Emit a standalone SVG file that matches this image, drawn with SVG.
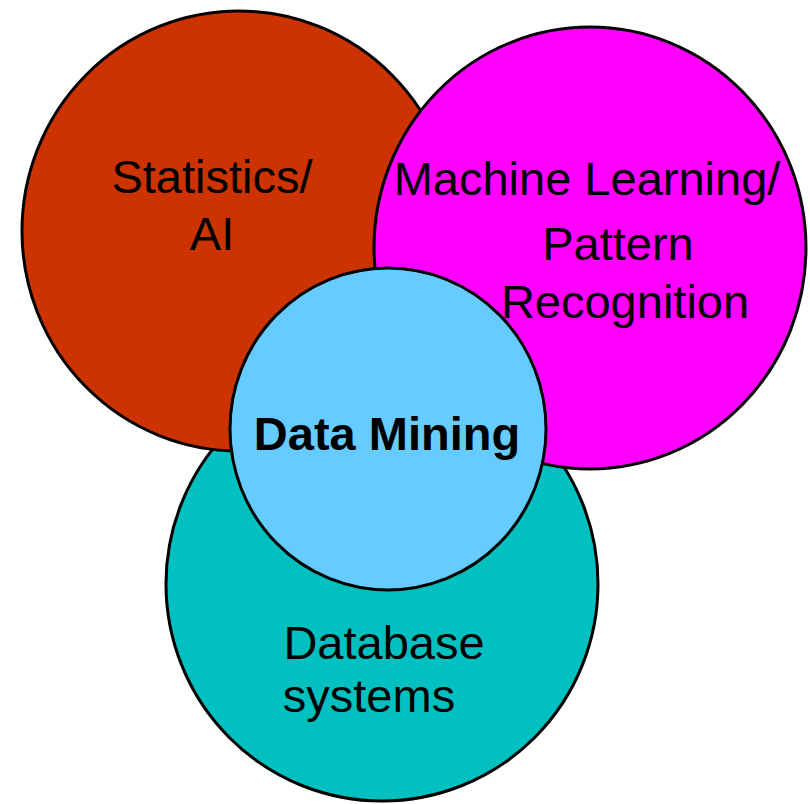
<svg xmlns="http://www.w3.org/2000/svg" width="810" height="804" viewBox="0 0 810 804">
<style>
.c{stroke:#000;stroke-width:3}
.t{font-family:"Liberation Sans",Arial,sans-serif;font-size:47px;fill:#000;text-anchor:middle}
.b{font-weight:bold}
</style>
<rect width="810" height="804" fill="#fff"/>
<g id="database">
<ellipse class="c" cx="382" cy="584" rx="216" ry="217" fill="#00C0C0"/>
<text class="t" x="384" y="659">Database</text>
<text class="t" x="369" y="712">systems</text>
</g>
<g id="statistics">
<ellipse class="c" cx="239" cy="231" rx="217" ry="220" fill="#CC3300"/>
<text class="t" x="212" y="193">Statistics/</text>
<text class="t" x="212" y="250">AI</text>
</g>
<g id="machine-learning">
<ellipse class="c" cx="590" cy="248" rx="216" ry="221" fill="#FF00FF"/>
<text class="t" x="587" y="195">Machine Learning/</text>
<text class="t" x="618" y="260">Pattern</text>
<text class="t" x="625" y="318">Recognition</text>
</g>
<g id="data-mining">
<ellipse class="c" cx="388" cy="429" rx="158" ry="161" fill="#66CCFF"/>
<text class="t b" x="387" y="450">Data Mining</text>
</g>
<g id="connectors"/>
</svg>
